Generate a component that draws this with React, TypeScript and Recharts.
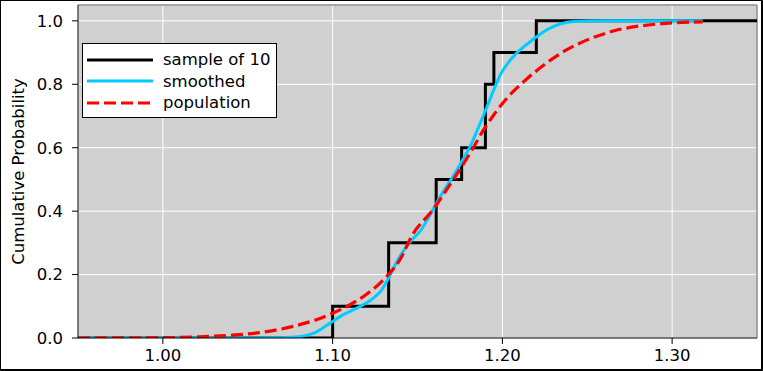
import React from "react";
import { LineChart, Line, XAxis, YAxis, CartesianGrid, ReferenceLine, Legend } from "recharts";

// ECDF of the sample (step after each observation)
const sampleX = [0.95, 1.1, 1.133, 1.161, 1.176, 1.19, 1.195, 1.22, 1.35];
const sampleY = [0, 0.1, 0.3, 0.5, 0.6, 0.8, 0.9, 1.0, 1.0];

// smoothed curve
const smoothX = [0.95, 1.0, 1.05, 1.07, 1.08, 1.09, 1.1, 1.106, 1.116, 1.124, 1.129, 1.134, 1.139, 1.145, 1.152, 1.159, 1.165, 1.171, 1.177, 1.181, 1.187, 1.191, 1.195, 1.199, 1.204, 1.21, 1.218, 1.226, 1.234, 1.242, 1.26, 1.29, 1.318];
const smoothY = [0, 0, 0, 0.001, 0.004, 0.018, 0.052, 0.073, 0.099, 0.126, 0.152, 0.2, 0.252, 0.299, 0.34, 0.404, 0.46, 0.51, 0.565, 0.604, 0.678, 0.73, 0.783, 0.832, 0.872, 0.906, 0.941, 0.971, 0.99, 0.998, 1, 1, 1];

// population cdf
const popX = [0.95, 0.98, 1.0, 1.022, 1.041, 1.061, 1.077, 1.09, 1.1, 1.11, 1.12, 1.13, 1.14, 1.147, 1.159, 1.171, 1.181, 1.189, 1.195, 1.202, 1.214, 1.226, 1.238, 1.25, 1.257, 1.266, 1.276, 1.286, 1.296, 1.306, 1.318];
const popY = [0, 0.0005, 0.001, 0.004, 0.009, 0.02, 0.037, 0.057, 0.078, 0.104, 0.138, 0.184, 0.25, 0.325, 0.404, 0.499, 0.583, 0.657, 0.704, 0.752, 0.815, 0.867, 0.909, 0.94, 0.954, 0.969, 0.98, 0.987, 0.992, 0.995, 0.997];

const xTicks = [1.0, 1.1, 1.2, 1.3];
const yTicks = [0, 0.2, 0.4, 0.6, 0.8, 1.0];
const seriesNames = ["sample of 10", "smoothed", "population"];

const toPoints = (xs: number[], ys: number[]) => xs.map((x, i) => ({ x, y: ys[i] }));

const CYAN = "#00ccff";
const RED = "#ff0000";
const FS = 16.5;

function LegendBox() {
  const rows = [
    { name: seriesNames[0], color: "#000", dash: undefined },
    { name: seriesNames[1], color: CYAN, dash: undefined },
    { name: seriesNames[2], color: RED, dash: "12 5" },
  ];
  return (
    <div
      style={{
        position: "relative",
        width: 195,
        height: 75,
        boxSizing: "border-box",
        border: "1px solid #000",
        background: "#fff",
      }}
    >
      {rows.map((r, i) => (
        <div
          key={r.name}
          style={{ position: "absolute", left: 4, top: 5 + i * 21.5, height: 21, display: "flex", alignItems: "center" }}
        >
          <svg width={66} height={8} style={{ display: "block" }}>
            <line x1={0} y1={4} x2={66} y2={4} stroke={r.color} strokeWidth={3.2} strokeDasharray={r.dash} />
          </svg>
          <span style={{ marginLeft: 10, fontSize: FS, lineHeight: "21px", color: "#000", whiteSpace: "nowrap" }}>
            {r.name}
          </span>
        </div>
      ))}
    </div>
  );
}

export default function App() {
  const tickStyle = { fontSize: FS, fill: "#000" };
  return (
    <div style={{ position: "absolute", left: 0, top: 0, width: 763, height: 371, background: "#fff", fontFamily: "'DejaVu Sans', sans-serif" }}>
      <LineChart width={763} height={371} margin={{ top: 5, right: 6, left: 0, bottom: 0 }}>
        <CartesianGrid stroke="#fff" fill="#d0d0d0" fillOpacity={1} />
        <XAxis
          type="number"
          dataKey="x"
          domain={[0.95, 1.35]}
          ticks={xTicks}
          allowDataOverflow
          height={33}
          tickSize={6}
          tickMargin={5}
          tick={tickStyle}
          stroke="#000"
          tickFormatter={(v: number) => v.toFixed(2)}
        />
        <YAxis
          type="number"
          domain={[0, 1.05]}
          ticks={yTicks}
          allowDataOverflow
          width={78}
          tickSize={6}
          tickMargin={9}
          tick={tickStyle}
          stroke="#000"
          tickFormatter={(v: number) => v.toFixed(1)}
          label={{
            value: "Cumulative Probability",
            angle: -90,
            position: "center",
            dx: -21,
            style: { fontSize: FS, fill: "#000" },
          }}
        />
        <ReferenceLine y={1.05} stroke="#8c8c8c" strokeWidth={1.5} />
        <ReferenceLine x={1.35} stroke="#8c8c8c" strokeWidth={1.5} />
        <Line
          data={toPoints(sampleX, sampleY)}
          dataKey="y"
          name={seriesNames[0]}
          type="stepAfter"
          stroke="#000"
          strokeWidth={3}
          dot={false}
          isAnimationActive={false}
        />
        <Line
          data={toPoints(smoothX, smoothY)}
          dataKey="y"
          name={seriesNames[1]}
          type="monotone"
          stroke={CYAN}
          strokeWidth={3}
          dot={false}
          isAnimationActive={false}
        />
        <Line
          data={toPoints(popX, popY)}
          dataKey="y"
          name={seriesNames[2]}
          type="monotone"
          stroke={RED}
          strokeWidth={3.2}
          strokeDasharray="12 5"
          dot={false}
          isAnimationActive={false}
        />
        <Legend
          layout="horizontal"
          verticalAlign="middle"
          align="center"
          wrapperStyle={{ left: 82, top: 43, width: 195, height: 75 }}
          content={() => <LegendBox />}
        />
      </LineChart>
      <div
        style={{
          position: "absolute",
          left: 0,
          top: 0,
          width: 763,
          height: 371,
          boxSizing: "border-box",
          borderTop: "1px solid #000",
          borderLeft: "1px solid #000",
          borderRight: "2px solid #000",
          borderBottom: "2px solid #000",
          pointerEvents: "none",
        }}
      />
    </div>
  );
}
